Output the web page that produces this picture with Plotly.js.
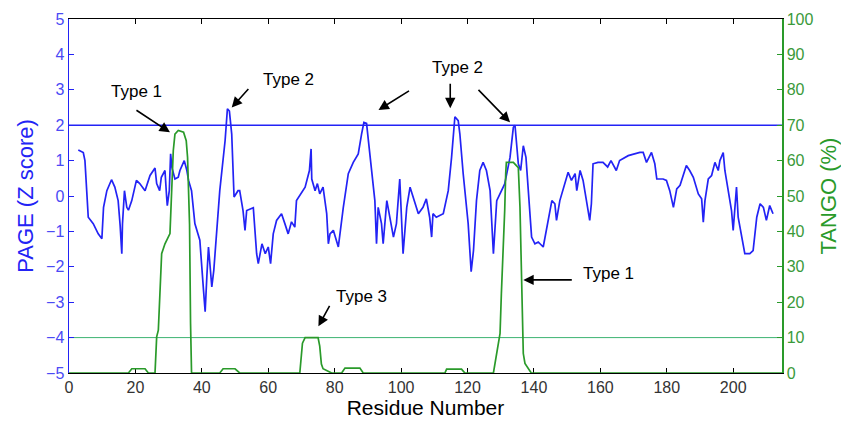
<!DOCTYPE html>
<html>
<head>
<meta charset="utf-8">
<script src="https://cdn.plot.ly/plotly-3.0.1.min.js"></script>
<style>html,body{margin:0;padding:0;background:#fff;}#chart{width:841px;height:425px;}</style>
</head>
<body>
<div id="chart"></div>
<script>
// PAGE Z-score profile (left axis)
const pageResidue = [2.8,4.3,4.8,5.3,5.8,7.3,8.8,9.9,10.4,11.4,12.8,13.8,14.8,15.4,15.9,16.1,16.7,17.4,17.9,18.9,20.3,21.3,22.9,24.4,25.9,26.4,27.3,27.8,28.9,29.4,29.6,30.2,30.6,31.0,31.9,32.9,33.4,34.7,35.5,36.0,36.9,37.9,39.4,40.5,41.0,41.5,42.0,42.5,43.0,43.6,44.4,45.4,47.0,47.7,48.3,49.0,49.7,50.9,51.4,52.4,53.0,53.5,55.5,56.0,56.5,57.0,58.1,59.1,60.0,60.7,61.5,62.5,64.0,65.0,66.0,67.0,68.0,68.5,71.1,72.4,72.9,73.1,74.1,74.8,75.5,76.5,77.6,78.1,78.6,79.6,81.1,82.6,84.1,85.6,87.1,88.1,88.8,89.6,90.5,91.1,92.1,92.6,93.1,94.1,94.6,95.7,96.7,97.7,98.6,99.6,100.6,101.7,102.7,104.2,105.2,106.6,107.6,108.6,109.2,109.6,110.6,112.7,114.2,115.2,116.2,117.2,117.7,118.7,120.2,121.1,121.8,122.7,123.7,124.7,125.7,126.8,127.8,128.8,129.8,131.2,132.8,133.8,134.3,134.8,135.3,136.0,136.8,137.6,138.2,139.3,140.3,141.3,142.8,143.8,145.4,146.3,146.8,147.8,149.3,150.3,151.3,152.4,152.9,153.9,154.8,155.8,156.8,157.3,157.8,159.3,160.8,162.2,163.2,164.8,165.8,168.4,171.9,172.9,173.9,175.4,176.4,177.0,178.9,179.9,180.9,182.0,183.0,184.0,185.9,186.9,188.0,189.5,190.5,191.0,191.5,192.5,193.5,194.5,195.5,196.0,197.0,197.5,198.5,199.5,200.0,200.6,201.0,201.5,202.5,203.5,205.0,206.0,207.1,208.1,209.1,210.0,211.0,212.0];
const pageZ = [1.30,1.23,1.0,0.06,-0.60,-0.78,-1.07,-1.21,-0.32,0.15,0.46,0.25,-0.13,-0.83,-1.63,-0.8,0.15,-0.32,-0.4,-0.13,0.44,0.35,0.15,0.58,0.79,0.35,0.15,0.53,0.72,-0.03,-0.27,0.15,1.19,0.8,0.48,0.53,0.72,1.0,0.72,0.44,0.15,-0.78,-1.25,-2.66,-3.27,-2.29,-1.44,-2.0,-2.57,-2.1,-1.07,0.15,1.56,2.46,2.4,1.75,-0.03,0.15,0.15,-0.41,-0.97,-0.41,-0.33,-0.97,-1.63,-1.91,-1.35,-1.63,-1.44,-1.91,-1.07,-0.69,-0.50,-0.78,-1.07,-0.73,-0.88,-0.13,0.25,0.72,1.33,0.48,0.15,0.35,0.06,0.25,-0.50,-1.35,-1.07,-0.97,-1.44,-0.32,0.63,0.95,1.19,1.75,2.08,2.05,1.28,0.63,-0.13,-1.35,-0.32,-0.78,-1.35,-0.13,-0.6,-1.16,-0.78,0.48,-1.63,-0.32,0.25,-0.22,-0.5,-0.32,-0.08,-0.6,-1.16,-0.5,-0.6,-0.5,0.15,1.09,2.24,2.13,1.75,0.63,-0.78,-2.14,-1.54,-0.13,0.72,0.95,0.72,0.15,-1.63,-0.13,0.06,0.34,1.09,1.94,2.0,1.47,0.91,0.72,1.42,1.09,0.34,-1.16,-1.35,-1.3,-1.44,-0.97,-0.13,-0.22,-0.69,-0.13,0.34,0.67,0.44,0.63,0.15,0.72,0.44,-0.13,-0.69,-0.22,0.91,0.95,0.95,0.82,1.0,0.72,1.0,1.14,1.23,1.23,0.95,1.23,0.91,0.48,0.48,0.44,0.15,-0.32,0.2,0.3,0.86,0.72,0.53,0.06,-0.08,-0.74,-0.13,0.48,0.58,0.95,0.72,1.0,1.23,0.72,0.15,-0.41,-0.97,-0.13,0.25,-0.6,-1.07,-1.63,-1.63,-1.54,-0.6,-0.22,-0.32,-0.69,-0.27,-0.5];

// TANGO aggregation profile (right axis, %)
const tangoResidue = [0,17.9,18.9,22.9,23.9,25.9,26.4,26.9,27.9,28.9,30.4,30.9,31.4,31.9,32.9,34.5,35.3,35.7,36.1,36.3,36.6,36.9,45.4,46.4,50.0,51.4,69.5,70.3,71.1,75.0,75.5,76.0,76.5,78.1,79.1,82.1,83.1,87.6,88.6,113.2,113.7,118.2,119.2,127.8,128.8,129.8,130.2,130.7,131.2,131.5,131.7,133.8,134.8,135.3,135.8,136.3,136.8,137.3,138.3,139.2,214.7];
const tangoPct = [0,0,1.2,1.2,0,0,10.2,12.1,33.7,36.5,39.4,51.5,62.8,67.5,68.5,68,65.6,60.9,51.5,42,14,0,0,1.2,1.2,0,0,8.4,10,10,7.6,2.5,1.2,0.6,0,0,1.4,1.4,0,0,1.1,1.1,0,0,5.5,11.2,22.5,32.8,45.9,56.3,59.5,59.5,58.6,58,46.8,28,5.5,2.7,1.1,0,0];

// thresholds
const pageThreshold = 2;
const tangoThreshold = 10;

// axes
const xRange = [0, 214.7];
const pageRange = [-5, 5];
const tangoRange = [0, 100];
const xTicks = [0,20,40,60,80,100,120,140,160,180,200];
const pageTicks = [-5,-4,-3,-2,-1,0,1,2,3,4,5];
const tangoTicks = [0,10,20,30,40,50,60,70,80,90,100];

// annotations: [label, x, y]
const labels = [
  ["Type 1", 20.2, 2.94],
  ["Type 2", 66.0, 3.28],
  ["Type 2", 117.0, 3.62],
  ["Type 3", 88.0, -2.85],
  ["Type 1", 162.5, -2.2]
];
// arrows: [tipX, tipY, tailOffsetX(px), tailOffsetY(px)]
const arrows = [
  [30.4, 1.80, -35, -23],
  [49.0, 2.50, 18, -20],
  [93.2, 2.43, 32, -20],
  [114.8, 2.48, 0, -26],
  [132.8, 2.08, -33, -34],
  [75.1, -3.68, 12, -22],
  [136.8, -2.37, 50, 0]
];

const FONT = "Liberation Sans, Arial, Helvetica, sans-serif";
const BLUE = "#2323f5";
const GREEN = "#2a9a2a";

const traces = [
  {x: xRange, y: [pageThreshold, pageThreshold], mode: 'lines', line: {color: BLUE, width: 1.6}, hoverinfo: 'skip'},
  {x: xRange, y: [tangoThreshold, tangoThreshold], yaxis: 'y2', mode: 'lines', line: {color: '#3cb371', width: 1}, hoverinfo: 'skip'},
  {x: pageResidue, y: pageZ, mode: 'lines', line: {color: BLUE, width: 1.7}},
  {x: tangoResidue, y: tangoPct, yaxis: 'y2', mode: 'lines', line: {color: GREEN, width: 1.7}}
];

const annotations = [];
labels.forEach(l => annotations.push({
  x: l[1], y: l[2], xref: 'x', yref: 'y', text: l[0], showarrow: false,
  font: {family: FONT, size: 17, color: '#000'}
}));
arrows.forEach(a => annotations.push({
  x: a[0], y: a[1], xref: 'x', yref: 'y', text: '', showarrow: true,
  ax: a[2], ay: a[3], arrowhead: 2, arrowsize: 1.3, arrowwidth: 1.6, arrowcolor: '#000'
}));

const layout = {
  width: 841, height: 425,
  margin: {l: 69, r: 59, t: 19, b: 52},
  paper_bgcolor: '#fff', plot_bgcolor: '#fff',
  showlegend: false,
  font: {family: FONT},
  xaxis: {
    range: xRange, tickvals: xTicks, ticks: 'inside', ticklen: 5, tickcolor: '#000',
    showline: true, linecolor: '#000', linewidth: 1.2, mirror: 'ticks',
    showgrid: false, zeroline: false, layer: 'below traces',
    tickfont: {family: FONT, size: 16, color: '#333'},
    title: {text: 'Residue Number', font: {family: FONT, size: 21, color: '#000'}, standoff: 4}
  },
  yaxis: {
    range: pageRange, tickvals: pageTicks, ticks: 'inside', ticklen: 5, tickcolor: BLUE,
    showline: true, linecolor: BLUE, linewidth: 1.5, showgrid: false, zeroline: false,
    automargin: true,
    tickfont: {family: FONT, size: 16, color: '#4a4af5'},
    title: {text: 'PAGE (Z score)', font: {family: FONT, size: 22, color: BLUE}, standoff: 6}
  },
  yaxis2: {
    range: tangoRange, tickvals: tangoTicks, overlaying: 'y', side: 'right',
    ticks: 'inside', ticklen: 5, tickcolor: GREEN,
    showline: true, linecolor: GREEN, linewidth: 1.5, showgrid: false, zeroline: false,
    tickfont: {family: FONT, size: 16, color: '#3a9a3a'},
    title: {text: 'TANGO (%)', font: {family: FONT, size: 22, color: GREEN}}
  },
  annotations: annotations
};

Plotly.newPlot('chart', traces, layout, {displayModeBar: false, staticPlot: true});
</script>
</body>
</html>
